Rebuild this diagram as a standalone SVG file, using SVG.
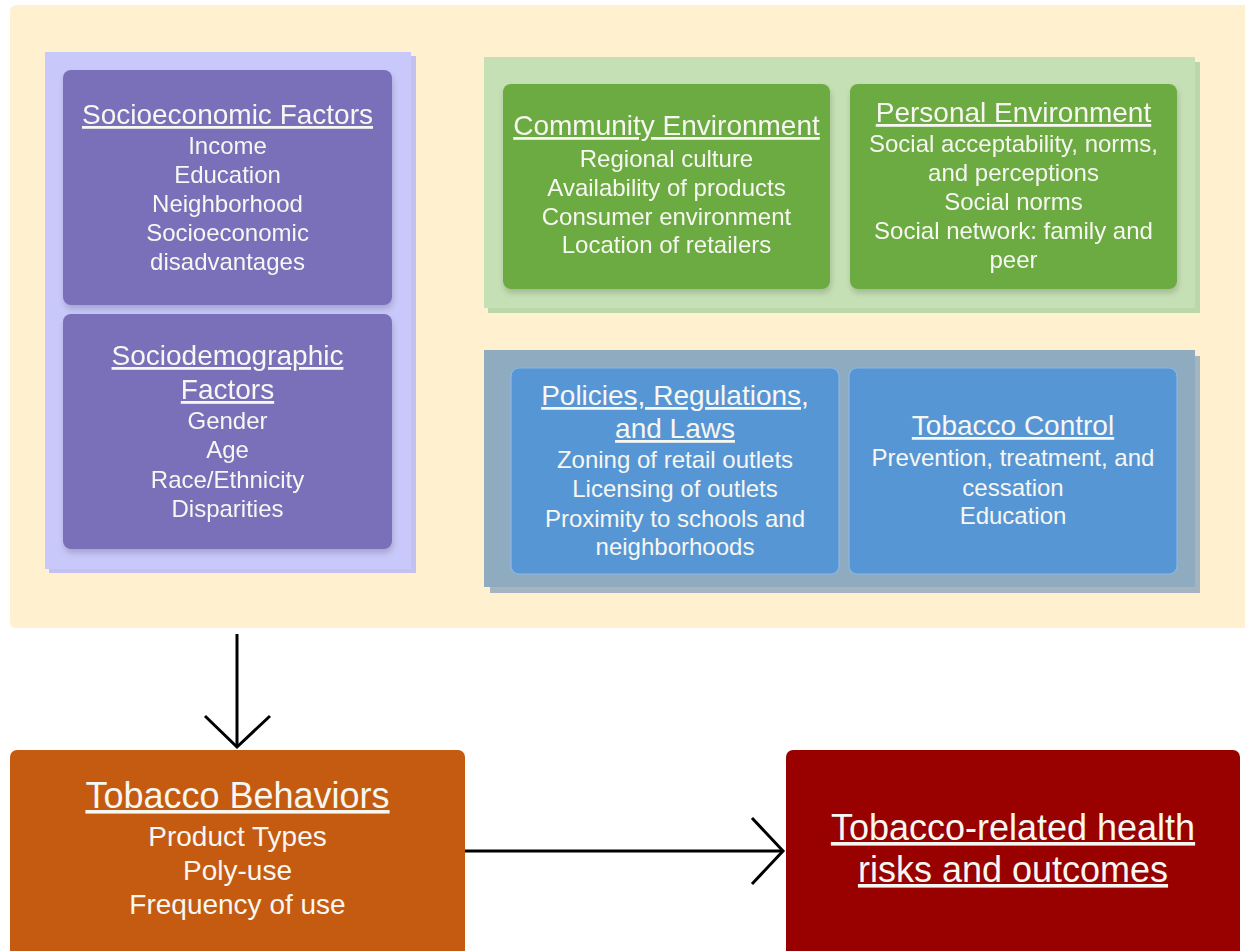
<svg xmlns="http://www.w3.org/2000/svg" width="1245" height="951" viewBox="0 0 1245 951">
  <style>
    text { font-family: "Liberation Sans", Arial, sans-serif; fill: #f7f7f2; text-anchor: middle; }
    .t { font-size: 28px; text-decoration: underline; }
    .i { font-size: 24px; }
    .big { font-size: 36px; }
    .mid { font-size: 28px; }
    .con { fill: none; stroke: #000; stroke-width: 3; }
  </style>
  <defs>
    <filter id="sh" x="-10%" y="-10%" width="120%" height="130%">
      <feGaussianBlur in="SourceAlpha" stdDeviation="3"/>
      <feOffset dx="1" dy="4"/>
      <feComponentTransfer><feFuncA type="linear" slope="0.18"/></feComponentTransfer>
      <feMerge><feMergeNode/><feMergeNode in="SourceGraphic"/></feMerge>
    </filter>
  </defs>

  <rect width="1245" height="951" fill="#ffffff"/>

  <!-- context area -->
  <g id="context">
    <rect x="10" y="5" width="1240" height="623" rx="6" fill="#fff0cf"/>
  </g>

  <!-- individual factors panel -->
  <g id="individual-panel">
    <rect x="49" y="56" width="367" height="517" fill="#c2c1f0"/>
    <rect x="45" y="52" width="366" height="517" fill="#c9c8fb"/>
  </g>
  <g id="socioeconomic" filter="url(#sh)">
    <rect x="63" y="70" width="329" height="235" rx="8" fill="#7a6fba"/>
    <text class="t" x="227.5" y="124">Socioeconomic Factors</text>
    <text class="i" x="227.5" y="154">Income</text>
    <text class="i" x="227.5" y="183">Education</text>
    <text class="i" x="227.5" y="212">Neighborhood</text>
    <text class="i" x="227.5" y="241">Socioeconomic</text>
    <text class="i" x="227.5" y="270">disadvantages</text>
  </g>
  <g id="sociodemographic" filter="url(#sh)">
    <rect x="63" y="314" width="329" height="235" rx="8" fill="#7a6fba"/>
    <text class="t" x="227.5" y="365">Sociodemographic</text>
    <text class="t" x="227.5" y="399">Factors</text>
    <text class="i" x="227.5" y="429">Gender</text>
    <text class="i" x="227.5" y="458">Age</text>
    <text class="i" x="227.5" y="488">Race/Ethnicity</text>
    <text class="i" x="227.5" y="517">Disparities</text>
  </g>

  <!-- social environment panel -->
  <g id="environment-panel">
    <rect x="488" y="62" width="712" height="251" fill="#bcd8aa"/>
    <rect x="484" y="57" width="711" height="251" fill="#c6e0b5"/>
  </g>
  <g id="community" filter="url(#sh)">
    <rect x="503" y="84" width="327" height="205" rx="8" fill="#6caa43"/>
    <text class="t" x="666.5" y="135">Community Environment</text>
    <text class="i" x="666.5" y="167">Regional culture</text>
    <text class="i" x="666.5" y="196">Availability of products</text>
    <text class="i" x="666.5" y="225">Consumer environment</text>
    <text class="i" x="666.5" y="253">Location of retailers</text>
  </g>
  <g id="personal" filter="url(#sh)">
    <rect x="850" y="84" width="327" height="205" rx="8" fill="#6caa43"/>
    <text class="t" x="1013.5" y="122">Personal Environment</text>
    <text class="i" x="1013.5" y="152">Social acceptability, norms,</text>
    <text class="i" x="1013.5" y="181">and perceptions</text>
    <text class="i" x="1013.5" y="210">Social norms</text>
    <text class="i" x="1013.5" y="239">Social network: family and</text>
    <text class="i" x="1013.5" y="268">peer</text>
  </g>

  <!-- policy panel -->
  <g id="policy-panel">
    <rect x="490" y="356" width="710" height="237" fill="#a4b5bf"/>
    <rect x="484" y="350" width="711" height="237" fill="#8fabbf"/>
  </g>
  <g id="policies">
    <rect x="511" y="368" width="328" height="206" rx="8" fill="#5796d5" stroke="#8cb7e6" stroke-width="1.2"/>
    <text class="t" x="675" y="405">Policies, Regulations,</text>
    <text class="t" x="675" y="438">and Laws</text>
    <text class="i" x="675" y="468">Zoning of retail outlets</text>
    <text class="i" x="675" y="497">Licensing of outlets</text>
    <text class="i" x="675" y="527">Proximity to schools and</text>
    <text class="i" x="675" y="555">neighborhoods</text>
  </g>
  <g id="tobacco-control">
    <rect x="849" y="368" width="328" height="206" rx="8" fill="#5796d5" stroke="#8cb7e6" stroke-width="1.2"/>
    <text class="t" x="1013" y="435">Tobacco Control</text>
    <text class="i" x="1013" y="466">Prevention, treatment, and</text>
    <text class="i" x="1013" y="496">cessation</text>
    <text class="i" x="1013" y="524">Education</text>
  </g>

  <!-- behaviours and outcomes -->
  <g id="behaviors">
    <rect x="10" y="750" width="455" height="210" rx="7" fill="#c55a11"/>
    <text class="big" x="237.5" y="808" text-decoration="underline">Tobacco Behaviors</text>
    <text class="mid" x="237.5" y="846">Product Types</text>
    <text class="mid" x="237.5" y="880">Poly-use</text>
    <text class="mid" x="237.5" y="914">Frequency of use</text>
  </g>
  <g id="outcomes">
    <rect x="786" y="750" width="454" height="210" rx="7" fill="#990000"/>
    <text class="big" x="1013" y="840" text-decoration="underline">Tobacco-related health</text>
    <text class="big" x="1013" y="882" text-decoration="underline">risks and outcomes</text>
  </g>

  <!-- connectors -->
  <g id="connectors">
    <line class="con" x1="237" y1="634" x2="237" y2="746"/>
    <polyline class="con" points="205,716 237,747 270,716"/>
    <line class="con" x1="465" y1="851" x2="783" y2="851"/>
    <polyline class="con" points="752,818 783,851 752,884"/>
  </g>
</svg>
